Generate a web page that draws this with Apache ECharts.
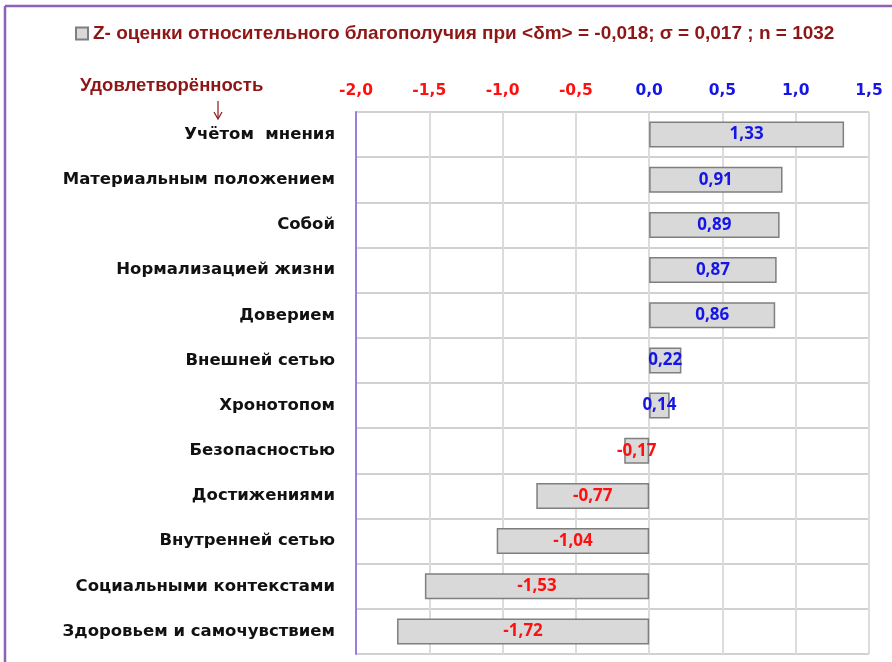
<!DOCTYPE html>
<html><head><meta charset="utf-8">
<script src="https://cdn.jsdelivr.net/npm/echarts@6/dist/echarts.min.js"></script>
<style>html,body{margin:0;padding:0;background:#fff}#c{width:892px;height:662px}</style>
</head><body><div id="c"></div>
<script>
const categories = ['Учётом  мнения','Материальным положением','Собой','Нормализацией жизни','Доверием','Внешней сетью','Хронотопом','Безопасностью','Достижениями','Внутренней сетью','Социальными контекстами','Здоровьем и самочувствием'];
const values = [1.33, 0.91, 0.89, 0.87, 0.86, 0.22, 0.14, -0.17, -0.77, -1.04, -1.53, -1.72];
const seriesName = 'Z- оценки относительного благополучия при <δm> = -0,018; σ = 0,017 ; n = 1032';
const axisMin = -2.0, axisMax = 1.5, axisStep = 0.5;

const fmt = v => (Math.round(v*100)/100).toFixed(2).replace('.', ',');
const fmt1 = v => v.toFixed(1).replace('.', ',');
const BLUE = '#1515e6', RED = '#ff1010', DARKRED = '#8e1616';

const chart = echarts.init(document.getElementById('c'));
chart.setOption({
  animation: false,
  legend: {
    left: 70, top: 19, itemWidth: 12, itemHeight: 12, itemGap: 4,
    data: [{name: seriesName, icon: 'rect'}],
    textStyle: {color: DARKRED, fontWeight: 'bold', fontSize: 19, fontFamily: 'Liberation Sans Narrow, Liberation Sans, Arial'}
  },
  grid: {left: 356, right: 23, top: 112, bottom: 8},
  xAxis: {
    type: 'value', position: 'top', min: axisMin, max: axisMax, interval: axisStep,
    axisLine: {show: false}, axisTick: {show: false},
    axisLabel: {margin: 13, fontSize: 15.5, fontWeight: 'bold', fontFamily: 'DejaVu Sans, Liberation Sans, Arial',
      formatter: v => fmt1(v), color: v => (parseFloat(v) < 0 ? RED : BLUE)},
    splitLine: {show: true, lineStyle: {color: '#dcdcdc', width: 2}}
  },
  yAxis: {
    type: 'category', inverse: true, data: categories,
    axisLine: {show: true, onZero: false, lineStyle: {color: '#9a7ed8', width: 2}},
    axisTick: {show: false},
    axisLabel: {margin: 21, fontSize: 16.5, fontWeight: 'bold', color: '#111', fontFamily: 'DejaVu Sans, Liberation Sans, Arial'},
    splitLine: {show: true, lineStyle: {color: '#c2c2c2', width: 1.5}}
  },
  series: [{
    name: seriesName, type: 'bar', barWidth: 26,
    data: values.map(v => ({value: v, label: {color: v < 0 ? RED : BLUE}})),
    itemStyle: {color: '#d9d9d9', borderColor: '#7f7f7f', borderWidth: 1.5},
    label: {show: true, position: 'inside', fontSize: 17, fontWeight: 'bold', fontFamily: 'Open Sans, Noto Sans, sans-serif',
      formatter: p => fmt(p.value)},
    labelLayout: {hideOverlap: false}
  }],
  graphic: [
    {type: 'line', shape: {x1: 5, y1: 6, x2: 892, y2: 6}, style: {stroke: '#8c62b4', lineWidth: 2.5}},
    {type: 'line', shape: {x1: 5, y1: 6, x2: 5, y2: 662}, style: {stroke: '#8c62b4', lineWidth: 2.5}},
    {type: 'text', left: 80, top: 76, style: {text: 'Удовлетворённость', fill: DARKRED, font: 'bold 18.5px "Liberation Sans", Arial'}},
    {type: 'line', shape: {x1: 218, y1: 101, x2: 218, y2: 118}, style: {stroke: DARKRED, lineWidth: 1.2}},
    {type: 'polyline', shape: {points: [[214, 112], [218, 119], [222, 112]]}, style: {stroke: DARKRED, lineWidth: 1.2, fill: null}}
  ]
});
</script></body></html>
